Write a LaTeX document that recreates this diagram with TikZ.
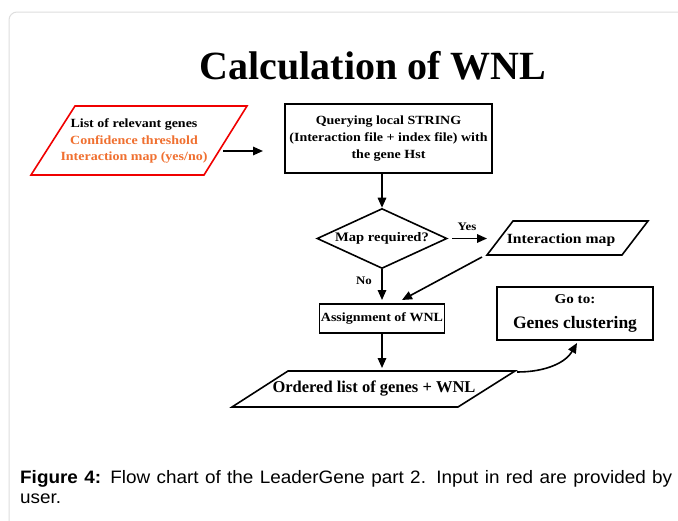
\documentclass[tikz,border=0pt]{standalone}
\usepackage{fontspec}
\setmainfont{Liberation Serif}
\newfontfamily\tfont{Liberation Serif}
\newfontfamily\dfont[FakeStretch=1.12]{Liberation Serif}
\newfontfamily\capfont[FakeStretch=1.05]{Liberation Sans}
\usetikzlibrary{arrows.meta,shapes.geometric}
\definecolor{inorange}{RGB}{240,112,48}
\definecolor{inred}{RGB}{240,0,0}
\definecolor{framegray}{RGB}{222,222,222}
\tikzset{
  arr/.style={line width=1.6pt,-{Triangle[length=10pt,width=8.5pt]}},
  boxc/.style={draw, line width=1.6pt, inner sep=0pt, align=center},
  shapeline/.style={draw, line width=1.6pt, line join=miter},
  lbl/.style={inner sep=0pt, align=center},
}
\begin{document}
\begin{tikzpicture}[x=1pt,y=-1pt]
\useasboundingbox (0,0) rectangle (678,520);
\clip (0,0) rectangle (678,520);
\fill[white] (0,0) rectangle (678,520);
\draw[framegray, line width=1pt, rounded corners=8pt] (9,12) rectangle (720,560);

% title
\node[lbl, font=\rmfamily\bfseries\fontsize{40}{44}\selectfont] (title) at (373,66) {Calculation of WNL};

% input parallelogram
\draw[shapeline, inred] (75,106) -- (247,106) -- (204,175) -- (31,175) -- cycle;
\node[lbl, font=\dfont\bfseries\fontsize{12.5}{16.5}\selectfont] (intext) at (134,141)
  {List of relevant genes\\ \textcolor{inorange}{Confidence threshold}\\ \textcolor{inorange}{Interaction map (yes/no)}};
\coordinate (inR) at (223,151);
\coordinate (qL) at (263,151);
\draw[arr] (inR) -- (qL);

% query box
\node[boxc, minimum width=207pt, minimum height=69pt, font=\dfont\bfseries\fontsize{12.5}{17}\selectfont] (query) at (388.5,138.5)
  {Querying local STRING\\(Interaction file + index file) with\\the gene Hst};

% decision
\node[draw, diamond, line width=1.6pt, aspect=2.17, minimum width=130pt, minimum height=60pt, inner sep=0pt,
  font=\dfont\bfseries\fontsize{13}{15}\selectfont] (mapq) at (382,238.5) {Map required?};
\draw[arr] (query.south -| mapq.north) -- (mapq.north);

% yes branch
\coordinate (yesS) at (452,238.5);
\coordinate (yesE) at (487,238.5);
\draw[arr] (yesS) -- (yesE);
\node[lbl, font=\dfont\bfseries\fontsize{11.5}{13}\selectfont] (yes) at (467,227) {Yes};
\draw[shapeline] (513,221) -- (648,221) -- (622,255) -- (487,255) -- cycle;
\node[lbl, font=\dfont\bfseries\fontsize{14}{16}\selectfont] (imap) at (561,240) {Interaction map};

% assignment
\node[boxc, minimum width=125pt, minimum height=29pt, font=\dfont\bfseries\fontsize{12.5}{15}\selectfont] (assign) at (382,318.5) {Assignment of WNL};
\coordinate (noE) at (382,300);
\draw[arr] (mapq.south) -- (noE);
\node[lbl, font=\dfont\bfseries\fontsize{11.5}{13}\selectfont] (no) at (364,281) {No};
\coordinate (imS) at (482,257);
\coordinate (imE) at (402,300);
\draw[arr] (imS) -- (imE);

% ordered list
\coordinate (ordE) at (382,368);
\draw[arr] (assign.south) -- (ordE);
\draw[shapeline] (288,371) -- (515,371) -- (458,407) -- (232,407) -- cycle;
\node[lbl, font=\tfont\bfseries\fontsize{16.5}{18}\selectfont] (ordered) at (374,389) {Ordered list of genes + WNL};

% go to box
\node[boxc, minimum width=156pt, minimum height=53pt, font=\tfont\bfseries] (goto) at (575,313.5)
  {{\dfont\fontsize{13.5}{16}\selectfont Go to:}\\[11pt]{\fontsize{17.5}{20}\selectfont Genes clustering}};
\coordinate (curS) at (517,372);
\coordinate (curE) at (577,343);
\draw[arr] (curS) .. controls (547,372) and (566,362) .. (curE);

% caption
\node[anchor=north west, inner sep=0pt, text width=652pt, align=justify, font=\capfont\fontsize{18}{20}\selectfont] (cap) at (20,470)
  {\textbf{Figure 4:} Flow chart of the LeaderGene part 2. Input in red are provided by\linebreak user.};
\end{tikzpicture}
\end{document}
